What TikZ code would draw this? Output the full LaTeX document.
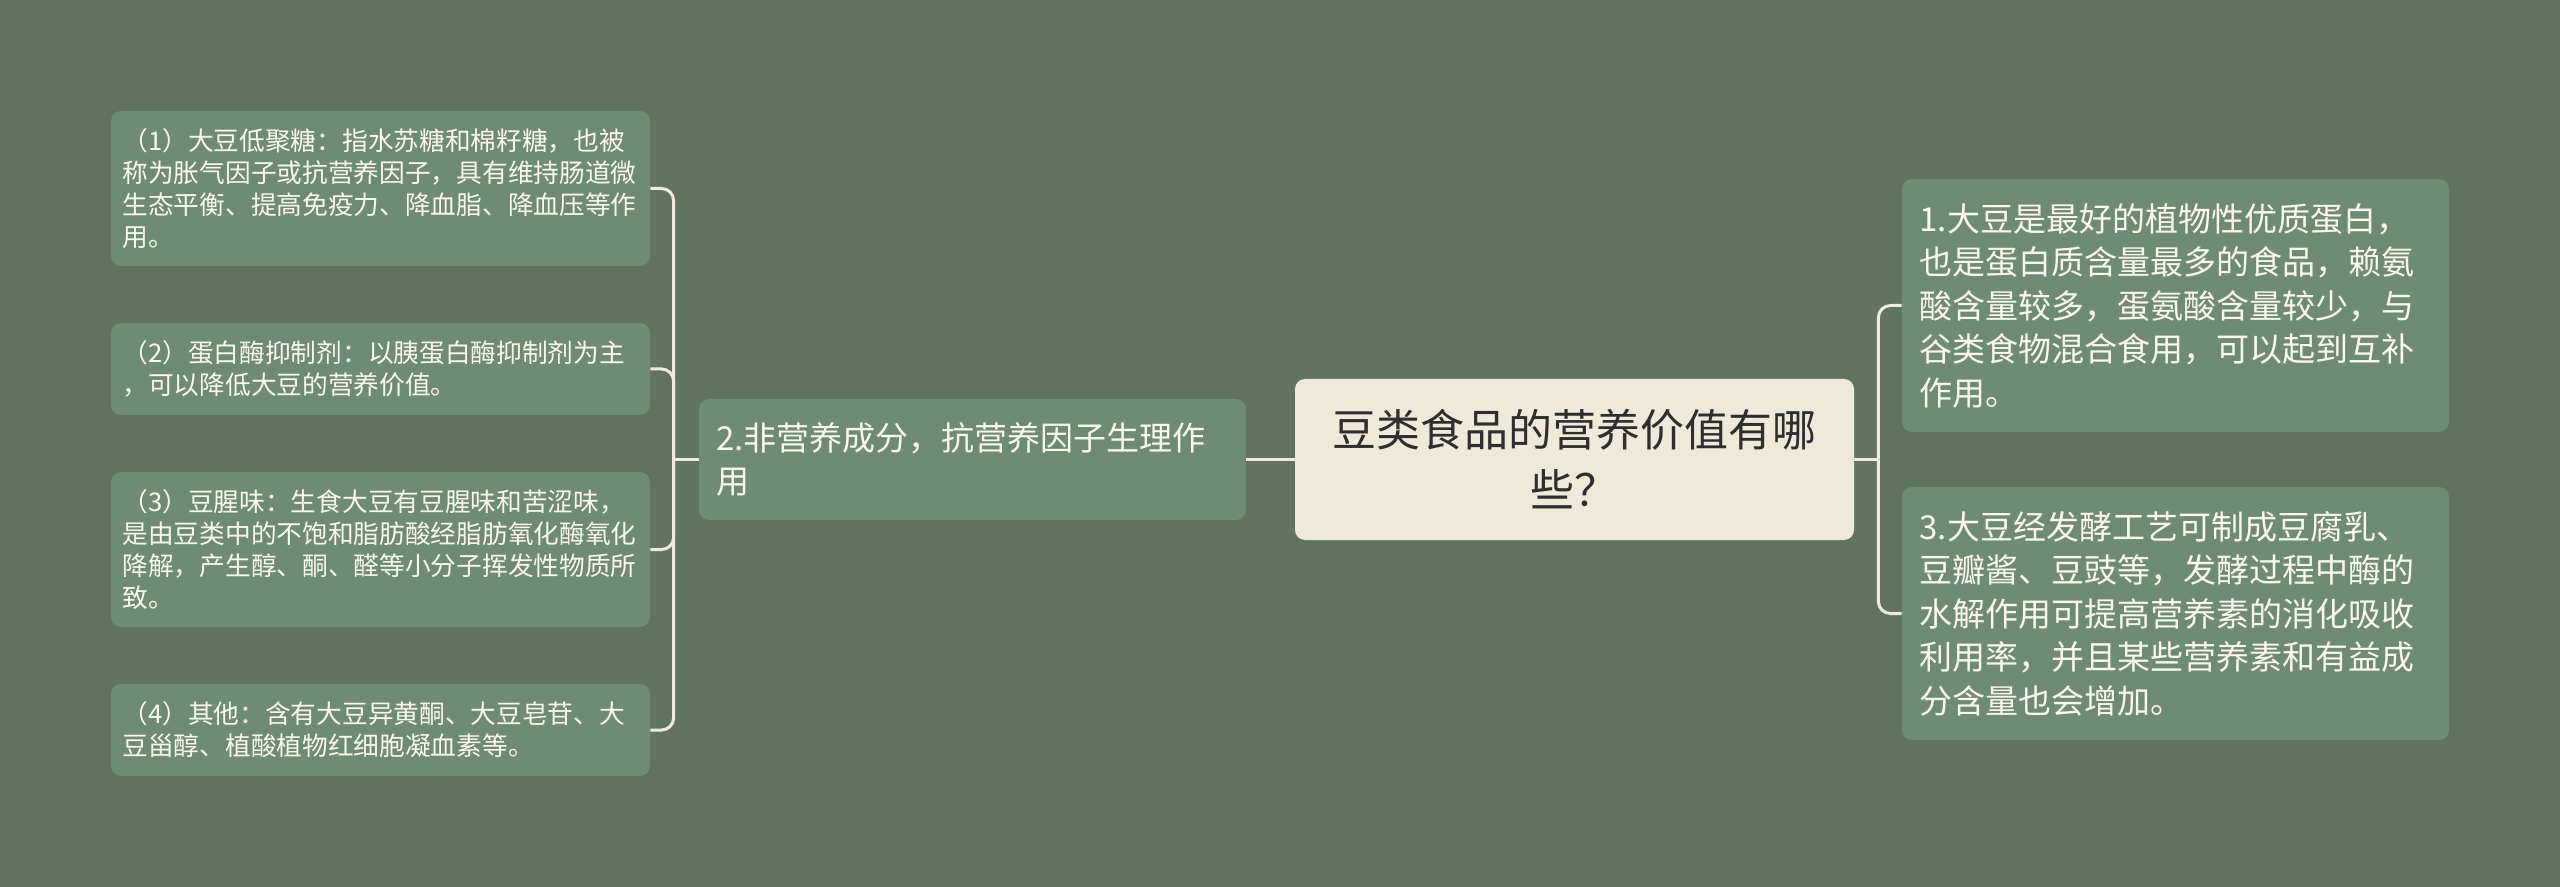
\documentclass[tikz,border=0pt]{standalone}
\usepackage{fontspec}
\setmainfont{Noto Sans CJK SC}
\definecolor{bg}{HTML}{617462}
\definecolor{boxgreen}{HTML}{6E8B74}
\definecolor{cream}{HTML}{EEE9D8}
\definecolor{linecol}{HTML}{F0ECDC}
\definecolor{lighttext}{HTML}{FAF8F0}
\definecolor{darktext}{HTML}{2E2E2E}
\begin{document}
\begin{tikzpicture}[x=0.5pt,y=-0.5pt,
            every node/.style = {inner sep=0pt, rounded corners=5pt},
            topic/.style = {fill=cream, text=darktext, minimum width=279.5pt, minimum height=80.5pt,
                align=center, font=\fontsize{22pt}{30pt}\selectfont},
            sub/.style = {fill=boxgreen, text=lighttext, minimum width=273.5pt, text width=256pt,
                align=left, font=\fontsize{16.5pt}{21.75pt}\selectfont},
            leaf/.style = {fill=boxgreen, text=lighttext, minimum width=269.5pt, text width=258pt,
                align=left, font=\fontsize{12.85pt}{16pt}\selectfont},
            link/.style = {draw=linecol, line width=1.5pt, rounded corners=6pt}]
            \fill[bg] (0,0) rectangle (2560,887);
            \useasboundingbox (0,0) rectangle (2560,887);
            % centre
            \node[topic] (topic) at (1574.5,459.5) {豆类食品的营养价值有哪\\些？};
            \node[sub, minimum height=60.5pt] (mid) at (972.5,459.5) {2.非营养成分，抗营养因子生理作\\用};
            % right side
            \node[sub, minimum height=126.5pt] (r1) at (2175.5,305.5)
                {1.大豆是最好的植物性优质蛋白，\\也是蛋白质含量最多的食品，赖氨\\酸含量较多，蛋氨酸含量较少，与\\谷类食物混合食用，可以起到互补\\作用。};
            \node[sub, minimum height=126.5pt] (r2) at (2175.5,613.5)
                {3.大豆经发酵工艺可制成豆腐乳、\\豆瓣酱、豆豉等，发酵过程中酶的\\水解作用可提高营养素的消化吸收\\利用率，并且某些营养素和有益成\\分含量也会增加。};
            % left side
            \node[leaf, minimum height=77.5pt] (l1) at (380.5,188.5)
                {（1）大豆低聚糖：指水苏糖和棉籽糖，也被\\称为胀气因子或抗营养因子，具有维持肠道微\\生态平衡、提高免疫力、降血脂、降血压等作\\用。};
            \node[leaf, minimum height=46pt] (l2) at (380.5,369)
                {（2）蛋白酶抑制剂：以胰蛋白酶抑制剂为主\\，可以降低大豆的营养价值。};
            \node[leaf, minimum height=77.5pt] (l3) at (380.5,549.5)
                {（3）豆腥味：生食大豆有豆腥味和苦涩味，\\是由豆类中的不饱和脂肪酸经脂肪氧化酶氧化\\降解，产生醇、酮、醛等小分子挥发性物质所\\致。};
            \node[leaf, minimum height=46pt] (l4) at (380.5,730)
                {（4）其他：含有大豆异黄酮、大豆皂苷、大\\豆甾醇、植酸植物红细胞凝血素等。};
            % connectors
            \coordinate (lj) at ([xshift=-12.5pt]mid.west);
            \coordinate (rj) at ([xshift=12pt]topic.east);
            \draw[link] (topic.west) -- (mid.east);
            \draw[link] (mid.west) -- (lj);
            \foreach \n in {l1,l2,l3,l4}
                \draw[link] (lj) |- (\n.east);
            \draw[link] (topic.east) -- (rj);
            \foreach \n in {r1,r2}
                \draw[link] (rj) |- (\n.west);
        \end{tikzpicture}
\end{document}
